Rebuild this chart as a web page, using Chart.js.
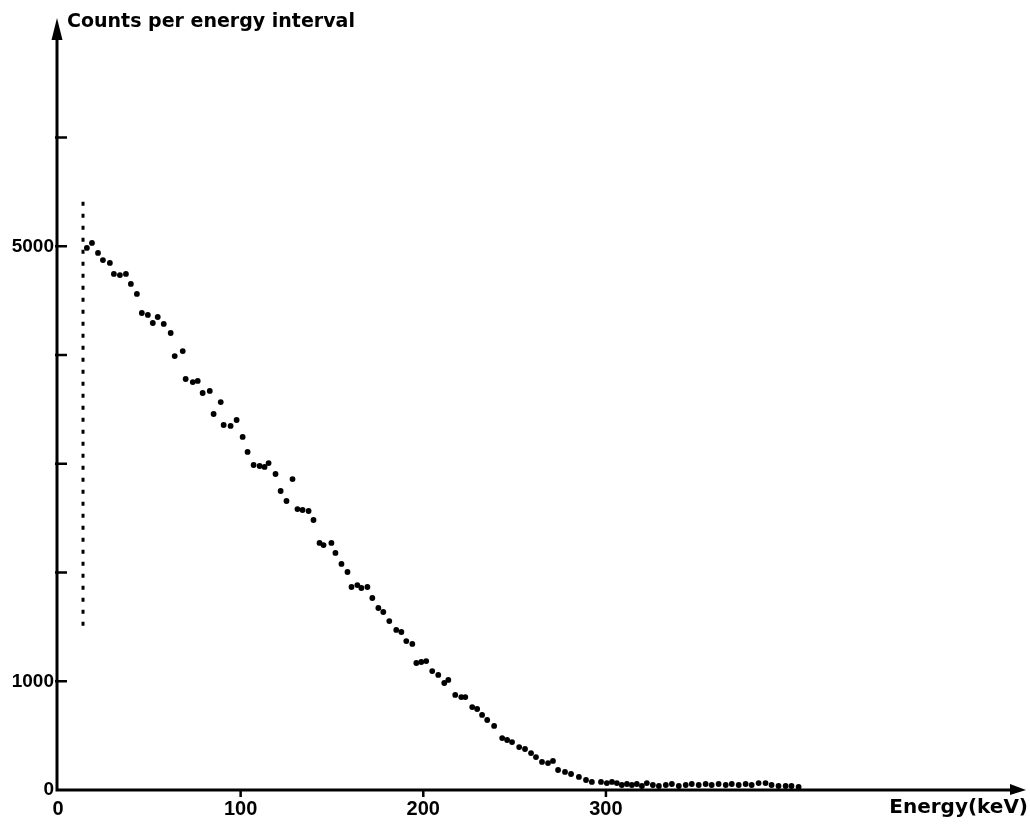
<!DOCTYPE html>
<html>
<head>
<meta charset="utf-8">
<title>Energy spectrum</title>
<script src="https://cdn.jsdelivr.net/npm/chart.js@4.4.1/dist/chart.umd.min.js"></script>
<style>
  html, body { margin: 0; padding: 0; background: #fff; }
  canvas { display: block; }
</style>
</head>
<body>
<canvas id="spectrum" width="1030" height="825"></canvas>
<script>
// measured spectrum: energy (keV) and counts per interval
const energy = [
  15.8, 18.6, 21.9, 24.6, 28.4, 30.6, 33.9, 37.2, 39.9, 43.2,
  45.9, 49.2, 51.9, 54.6, 57.9, 61.7, 63.9, 68.3, 69.9, 73.8,
  76.5, 79.2, 83.1, 85.2, 89.1, 90.7, 94.5, 97.8, 101.1, 103.8,
  107.1, 110.4, 113.1, 115.3, 119.1, 121.9, 125.1, 128.4, 131.1, 133.9,
  137.2, 139.9, 143.2, 145.4, 149.7, 151.9, 155.2, 158.5, 160.7, 163.9,
  166.1, 169.4, 172.1, 175.4, 178.1, 181.4, 185.2, 188.0, 190.7, 194.0,
  196.2, 198.9, 201.6, 204.9, 208.2, 211.5, 213.7, 217.5, 220.8, 223.0,
  226.8, 229.5, 232.2, 235.0, 238.8, 243.2, 245.9, 248.6, 252.5, 255.7,
  259.0, 261.7, 265.0, 268.3, 271.0, 273.8, 277.6, 280.9, 285.2, 289.1,
  292.3, 297.3, 300.5, 303.3, 306.0, 308.7, 311.5, 314.2, 316.9, 319.7,
  322.4, 325.7, 329.0, 332.8, 336.1, 339.9, 343.7, 347.0, 350.8, 354.6,
  357.9, 361.7, 365.6, 368.9, 372.7, 376.5, 379.8, 383.6, 387.4, 390.7,
  394.5, 398.4, 401.6, 405.5
];
const counts = [
  4985, 5031, 4939, 4874, 4847, 4746, 4736, 4746, 4654, 4562,
  4387, 4369, 4295, 4350, 4286, 4203, 3991, 4037, 3780, 3752,
  3762, 3651, 3670, 3458, 3568, 3357, 3348, 3403, 3247, 3109,
  2989, 2980, 2971, 3007, 2906, 2750, 2658, 2860, 2584, 2575,
  2566, 2483, 2272, 2253, 2272, 2180, 2079, 2005, 1867, 1885,
  1858, 1867, 1766, 1674, 1637, 1554, 1472, 1453, 1370, 1343,
  1168, 1177, 1186, 1094, 1058, 984, 1012, 874, 855, 855,
  763, 745, 690, 644, 589, 478, 460, 441, 395, 377,
  340, 303, 258, 248, 267, 184, 166, 147, 120, 92,
  74, 74, 64, 74, 64, 46, 55, 46, 55, 37,
  64, 46, 37, 46, 55, 37, 46, 55, 46, 55,
  46, 55, 46, 55, 46, 55, 46, 64, 64, 46,
  37, 37, 37, 28
];

// threshold marker drawn as a dotted vertical line
const cutoffEnergy = [13.7, 13.7];
const cutoffCounts = [5410, 1490];

// axes
const xTickValues = [0, 100, 200, 300];
const xTickLabels = ['0', '100', '200', '300'];
const yTickValues = [0, 1000, 2000, 3000, 4000, 5000, 6000];
const yTickLabels = ['0', '1000', '', '', '', '5000', ''];
const yTitle = 'Counts per energy interval';
const xTitle = 'Energy(keV)';

const numFont = { family: '"Liberation Sans", Arial, sans-serif', weight: 'bold' };

// axis lines with arrows, inner tick marks and axis titles
const axesPlugin = {
  id: 'axesDraw',
  afterDraw(chart) {
    const ctx = chart.ctx;
    const xs = chart.scales.x, ys = chart.scales.y;
    const x0 = xs.getPixelForValue(0) - 1;
    const y0 = ys.getPixelForValue(0);
    const top = chart.chartArea.top;
    const right = chart.chartArea.right;

    ctx.save();
    ctx.strokeStyle = '#000';
    ctx.fillStyle = '#000';
    ctx.lineWidth = 3;
    ctx.lineCap = 'butt';

    ctx.beginPath();
    ctx.moveTo(x0, y0 + 1.5);
    ctx.lineTo(x0, top + 18);
    ctx.moveTo(x0 - 1.5, y0);
    ctx.lineTo(right - 13, y0);
    ctx.stroke();

    // arrow heads
    ctx.beginPath();
    ctx.moveTo(x0, top);
    ctx.lineTo(x0 - 5.5, top + 22);
    ctx.lineTo(x0 + 5.5, top + 22);
    ctx.closePath();
    ctx.fill();
    ctx.beginPath();
    ctx.moveTo(right, y0);
    ctx.lineTo(right - 16, y0 - 6);
    ctx.lineTo(right - 16, y0 + 5);
    ctx.closePath();
    ctx.fill();

    ctx.lineWidth = 2.5;
    ctx.beginPath();
    yTickValues.forEach(v => {
      if (v === 0) return;
      const py = ys.getPixelForValue(v);
      ctx.moveTo(x0 - 2, py);
      ctx.lineTo(x0 + 10, py);
    });
    xTickValues.forEach(v => {
      if (v === 0) return;
      const px = xs.getPixelForValue(v);
      ctx.moveTo(px, y0);
      ctx.lineTo(px, y0 + 7);
    });
    ctx.stroke();

    ctx.font = 'bold 19px "DejaVu Sans", sans-serif';
    ctx.textAlign = 'left';
    ctx.textBaseline = 'alphabetic';
    ctx.fillText(yTitle, x0 + 10, 27);

    ctx.font = 'bold 20px "DejaVu Sans", sans-serif';
    ctx.textAlign = 'right';
    ctx.fillText(xTitle, 1028, 813);
    ctx.restore();
  }
};

new Chart(document.getElementById('spectrum'), {
  type: 'scatter',
  data: {
    datasets: [
      {
        label: 'counts',
        data: energy.map((e, i) => ({ x: e, y: counts[i] })),
        showLine: false,
        pointRadius: 2.9,
        pointBackgroundColor: '#000',
        pointBorderWidth: 0,
        borderColor: '#000'
      },
      {
        label: 'threshold',
        type: 'line',
        data: cutoffEnergy.map((e, i) => ({ x: e, y: cutoffCounts[i] })),
        borderColor: '#000',
        borderWidth: 3,
        borderDash: [4, 8],
        pointRadius: 0,
        fill: false
      }
    ]
  },
  options: {
    responsive: false,
    animation: false,
    devicePixelRatio: 1,
    layout: { padding: { top: 18, right: 2, left: 0, bottom: 0 } },
    plugins: {
      legend: { display: false },
      tooltip: { enabled: false }
    },
    scales: {
      x: {
        type: 'linear',
        min: 0,
        max: 530,
        afterBuildTicks: s => { s.ticks = xTickValues.map(v => ({ value: v })); },
        afterFit: s => { s.height = 35; },
        grid: { display: false, drawTicks: false },
        border: { display: false },
        ticks: {
          autoSkip: false,
          maxRotation: 0,
          padding: 7,
          color: '#000',
          font: Object.assign({ size: 20 }, numFont),
          callback: (v, i) => xTickLabels[i]
        }
      },
      y: {
        type: 'linear',
        min: 0,
        max: 7100,
        afterBuildTicks: s => { s.ticks = yTickValues.map(v => ({ value: v })); },
        afterFit: s => { s.width = 58; },
        grid: { display: false, drawTicks: false },
        border: { display: false },
        ticks: {
          autoSkip: false,
          padding: 4,
          color: '#000',
          font: Object.assign({ size: 19 }, numFont),
          callback: (v, i) => yTickLabels[i]
        }
      }
    }
  },
  plugins: [axesPlugin]
});
</script>
</body>
</html>
